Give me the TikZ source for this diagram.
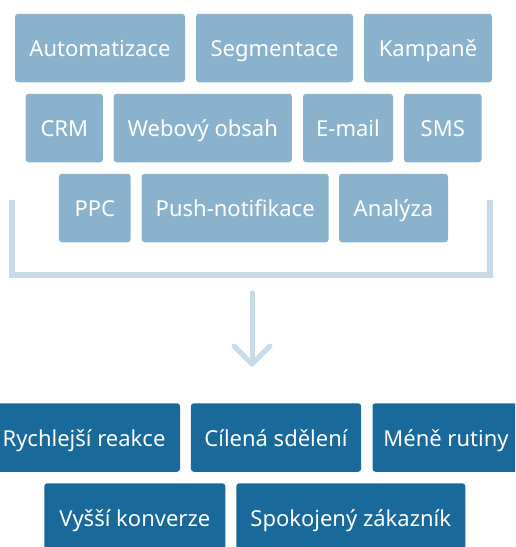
\documentclass[tikz,border=0pt]{standalone}
\usepackage{fontspec}
\setmainfont{Noto Sans}

\definecolor{toolblue}{HTML}{8BB2CD}
\definecolor{gainblue}{HTML}{1A699B}
\definecolor{framblue}{HTML}{C6DAE7}

\begin{document}
\begin{tikzpicture}[x=1pt, y=-1pt,
    tool/.style={fill=toolblue, rounded corners=3pt, text=white, inner sep=0pt,
      minimum height=68.5pt, text height=17.4pt, text depth=0pt,
      font=\fontsize{22}{26}\selectfont},
    gain/.style={tool, fill=gainblue},
    frame/.style={draw=framblue, line width=6pt}]
      \useasboundingbox (0, 0) rectangle (515, 547);
      \clip (0, 0) rectangle (515, 547);

      % nastroje
      \node[tool, minimum width=170pt] (autom) at (100, 48) {Automatizace};
      \node[tool, minimum width=157pt] (segm) at (274.5, 48) {Segmentace};
      \node[tool, minimum width=128pt] (kamp) at (428, 48) {Kampaně};
      \node[tool, minimum width=77.3pt] (crm) at (64.3, 128) {CRM};
      \node[tool, minimum width=178.3pt] (web) at (202.8, 128) {Webový obsah};
      \node[tool, minimum width=90pt] (email) at (348, 128) {E-mail};
      \node[tool, minimum width=77.7pt] (sms) at (442.8, 128) {SMS};
      \node[tool, minimum width=71.7pt] (ppc) at (94.8, 208) {PPC};
      \node[tool, minimum width=187pt] (push) at (235.2, 208) {Push-notifikace};
      \node[tool, minimum width=109pt] (anal) at (393.5, 208) {Analýza};

      % zavorka
      \coordinate (bl) at (12, 200);
      \coordinate (br) at (490, 200);
      \draw[frame] (bl) -- (12, 275) -- (490, 275) -- (br);

      % sipka
      \coordinate (from) at (252, 293);
      \coordinate (tip) at (252, 364);
      \draw[framblue, line width=5pt, line cap=round] (from) -- (tip);
      \draw[framblue, line width=5pt, line cap=round, line join=round]
        (tip) ++(-18, -18) -- (tip) -- ++(18, -18);

      % prinosy
      \node[gain, minimum width=192pt] (rychl) at (84, 437.5) {Rychlejší reakce};
      \node[gain, minimum width=170.3pt] (cil) at (276, 437.5) {Cílená sdělení};
      \node[gain, minimum width=147pt] (rutin) at (446, 437.5) {Méně rutiny};
      \node[gain, minimum width=181pt] (konv) at (134.8, 517.5) {Vyšší konverze};
      \node[gain, minimum width=229pt] (spok) at (350.8, 517.5) {Spokojený zákazník};
    \end{tikzpicture}
\end{document}
